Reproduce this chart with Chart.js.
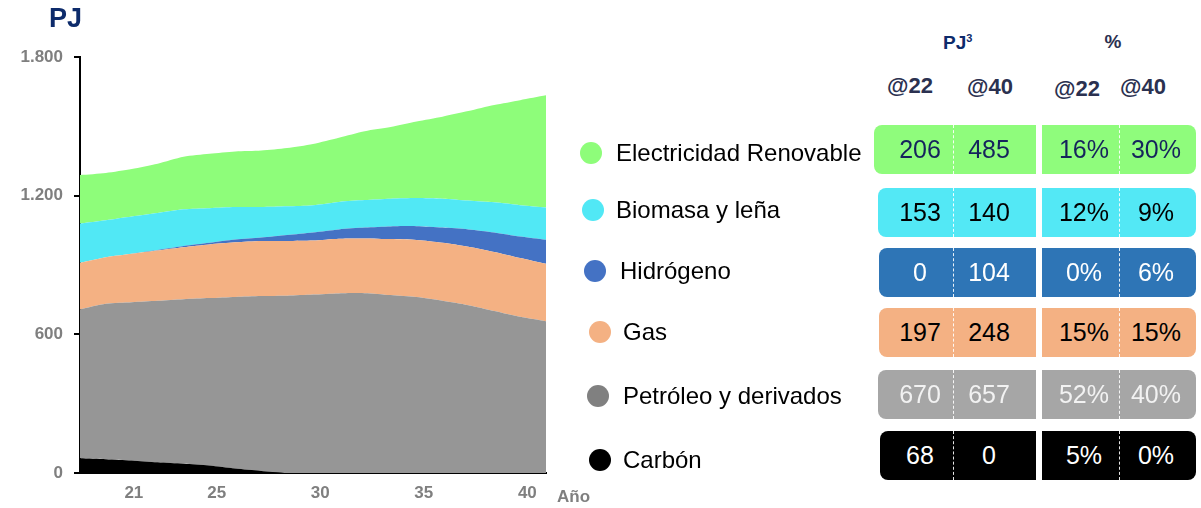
<!DOCTYPE html>
<html>
<head>
<meta charset="utf-8">
<script src="https://cdn.jsdelivr.net/npm/chart.js@4.4.1/dist/chart.umd.min.js"></script>
<style>
  body { margin: 0; background: #fff; font-family: "Liberation Sans", Arial, sans-serif; }
  #page { position: relative; width: 1201px; height: 508px; overflow: hidden; }
  #plot { position: absolute; left: 0; top: 0; width: 600px; height: 508px; }
  .abs { position: absolute; white-space: nowrap; }
</style>
</head>
<body>
<div id="page">
  <div id="plot"><canvas id="chart"></canvas></div>
</div>
<script>
// years of the series (area chart)
const years = [2022, 2023, 2024, 2025, 2026, 2027, 2028, 2029, 2030, 2031,
               2032, 2033, 2034, 2035, 2036, 2037, 2038, 2039, 2040];
// year labels as the original axis shows them
const tickYears = [2021, 2025, 2030, 2035, 2040];
const yTicks = [0, 600, 1200, 1800];

// PJ per source, bottom of the stack first
const carbon = [64, 60, 54, 46, 40, 32, 19, 9, 0, 0, 0, 0, 0, 0, 0, 0, 0, 0, 0];
const petroleo = [644, 672, 685, 699, 712, 725, 743, 757, 767, 772, 777, 778, 770, 761, 745, 726, 701, 676, 657];
const gas = [202, 202, 210, 218, 225, 232, 236, 238, 237, 234, 237, 237, 242, 247, 251, 253, 255, 254, 248];
const hidrogeno = [0, 0, 0, 2, 5, 7, 12, 15, 26, 35, 40, 47, 55, 60, 66, 75, 85, 93, 104];
const biomasa = [170, 160, 161, 160, 159, 150, 141, 132, 124, 118, 119, 119, 120, 122, 125, 125, 130, 136, 140];
const electricidad = [209, 204, 205, 213, 227, 235, 240, 244, 252, 265, 278, 298, 310, 331, 355, 387, 421, 454, 485];

// legend / table, top row first
const names = ["Electricidad Renovable", "Biomasa y leña", "Hidrógeno", "Gas", "Petróleo y derivados", "Carbón"];
const pj22 = [206, 153, 0, 197, 670, 68];
const pj40 = [485, 140, 104, 248, 657, 0];
const pct22 = ["16%", "12%", "0%", "15%", "52%", "5%"];
const pct40 = ["30%", "9%", "6%", "15%", "40%", "0%"];

const areaColors = ["#8efd7a", "#51e8f5", "#4472c4", "#f4b183", "#969696", "#000000"];
const dotColors = ["#8efd7a", "#51e8f5", "#4472c4", "#f4b183", "#808080", "#000000"];
const boxColors = ["#8ffc7c", "#53e8f5", "#2e75b6", "#f4b183", "#a6a6a6", "#000000"];
const boxText = ["#15235c", "#000000", "#ffffff", "#000000", "#f2f2f2", "#ffffff"];

const stack = [carbon, petroleo, gas, hidrogeno, biomasa, electricidad];
const FONT = '"Liberation Sans", Arial, sans-serif';

const datasets = stack.map((vals, i) => {
  const c = areaColors[names.length - 1 - i];
  return {
    label: names[names.length - 1 - i],
    data: vals.map((v, k) => ({ x: years[k], y: v })),
    xAxisID: 'x',
    backgroundColor: c,
    borderColor: 'rgba(0,0,0,0)',
    borderWidth: 0,
    pointRadius: 0,
    tension: 0.25,
    fill: i === 0 ? 'origin' : '-1'
  };
});

function fmt(v) {
  return String(v).replace(/\B(?=(\d{3})+(?!\d))/g, '.');
}

new Chart(document.getElementById('chart'), {
  type: 'line',
  data: { datasets: datasets },
  options: {
    responsive: true,
    maintainAspectRatio: false,
    animation: false,
    devicePixelRatio: 1,
    layout: { padding: { left: 0, right: 54, top: 57, bottom: 0 } },
    plugins: { legend: { display: false }, tooltip: { enabled: false } },
    scales: {
      x: { type: 'linear', min: years[0], max: years[years.length - 1], display: false },
      // the original puts its year labels on their own spacing
      yr: {
        type: 'linear', axis: 'x', position: 'bottom', min: 2018.4, max: 2040.9,
        afterBuildTicks: s => { s.ticks = tickYears.map(v => ({ value: v })); },
        afterFit: s => { s.height = 35; },
        grid: { drawOnChartArea: false, drawTicks: false },
        border: { color: '#000', width: 2 },
        ticks: {
          autoSkip: false, maxRotation: 0, padding: 10, color: '#7f7f7f',
          font: { family: FONT, size: 17, weight: 'bold' },
          callback: v => String(v).slice(2)
        }
      },
      y: {
        stacked: true, min: 0, max: 1800,
        afterBuildTicks: s => { s.ticks = yTicks.map(v => ({ value: v })); },
        afterFit: s => { s.width = 80; },
        grid: { drawOnChartArea: false, drawTicks: true, tickLength: 6, color: '#000', lineWidth: 2 },
        border: { color: '#000', width: 2 },
        ticks: {
          padding: 11, color: '#7f7f7f',
          font: { family: FONT, size: 17, weight: 'bold' },
          callback: v => fmt(v)
        }
      }
    }
  }
});

// texts and table around the chart
const page = document.getElementById('page');
function put(html, css) {
  const d = document.createElement('div');
  d.className = 'abs';
  d.innerHTML = html;
  Object.assign(d.style, css);
  page.appendChild(d);
  return d;
}

put('PJ', { left: '49px', top: '4px', fontSize: '27px', lineHeight: '28px', fontWeight: 'bold', color: '#0d2b6b' });
put('Año', { left: '557px', top: '486px', fontSize: '17px', lineHeight: '22px', fontWeight: 'bold', color: '#7f7f7f' });

put('PJ<sup style="font-size:11px;vertical-align:7px">3</sup>', { left: '943px', top: '26px', fontSize: '19px', lineHeight: '24px', fontWeight: 'bold', color: '#0d2b6b' });
put('%', { left: '1093px', top: '30px', width: '40px', textAlign: 'center', fontSize: '19px', lineHeight: '24px', fontWeight: 'bold', color: '#2b3150' });

const headX = [910, 990, 1077, 1143];
const headY = [86, 87, 89, 87];
['@22', '@40', '@22', '@40'].forEach((t, k) => {
  put(t, { left: (headX[k] - 40) + 'px', top: (headY[k] - 13) + 'px', width: '80px', textAlign: 'center',
           fontSize: '22px', lineHeight: '26px', fontWeight: 'bold', color: '#2b3150' });
});

// row layout
const dotX = [580, 582, 584, 589, 587, 589];
const labelX = [616, 616, 620, 623, 623, 623];
const rowY = [153, 210, 271, 332, 396, 460];
const boxTop = [125, 188, 248, 308, 370, 431];
const boxLeft = [874, 878, 879, 879, 878, 880];
const cellX = [920, 989, 1084, 1156];

names.forEach((name, i) => {
  put('', { left: dotX[i] + 'px', top: (rowY[i] - 11) + 'px', width: '22px', height: '22px',
            borderRadius: '50%', background: dotColors[i] });
  put(name, { left: labelX[i] + 'px', top: (rowY[i] - 14) + 'px', fontSize: '24px', lineHeight: '28px', color: '#000' });

  put('', { left: boxLeft[i] + 'px', top: boxTop[i] + 'px', width: (1036 - boxLeft[i]) + 'px', height: '49px',
            background: boxColors[i], borderRadius: '8px 0 0 8px' });
  put('', { left: '1042px', top: boxTop[i] + 'px', width: '154px', height: '49px',
            background: boxColors[i], borderRadius: '0 8px 8px 0' });
  [953, 1119].forEach(x => {
    put('', { left: x + 'px', top: boxTop[i] + 'px', width: '0', height: '49px',
              borderLeft: '1px dashed rgba(255,255,255,0.9)' });
  });

  [String(pj22[i]), String(pj40[i]), pct22[i], pct40[i]].forEach((t, k) => {
    put(t, { left: (cellX[k] - 40) + 'px', top: (boxTop[i] + 9) + 'px', width: '80px', textAlign: 'center',
             fontSize: '25px', lineHeight: '30px', color: boxText[i] });
  });
});
</script>
</body>
</html>
